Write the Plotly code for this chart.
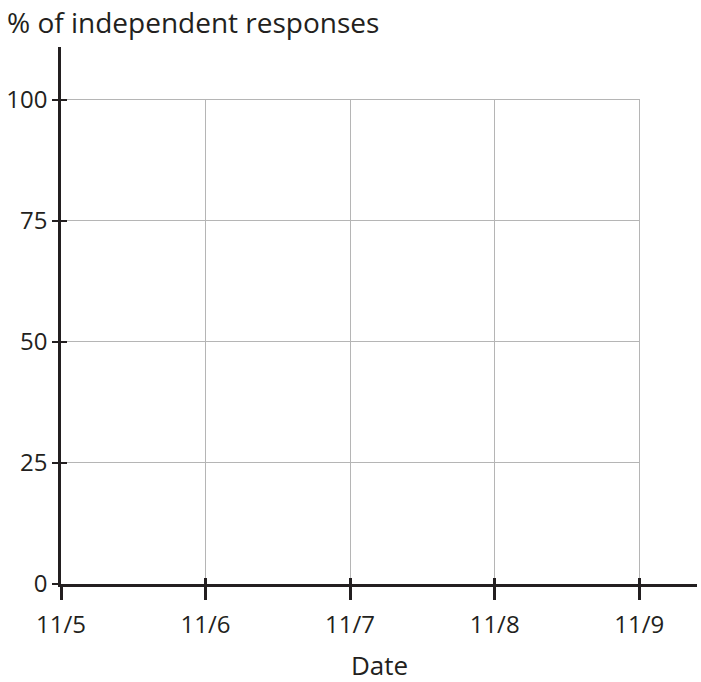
import plotly.graph_objects as go

dates = ["11/5", "11/6", "11/7", "11/8", "11/9"]
y_ticks = [0, 25, 50, 75, 100]
y_max_grid = 100
y_max_axis = 110.95
x_max_axis = 4.4

xpos = list(range(len(dates)))
FONT = "Open Sans"
INK = "#231f20"
GRID = "#b5b5b5"
TICK_SIZE = 24
TITLE_SIZE = 28
XTITLE_SIZE = 26

fig = go.Figure()
# empty series (no data plotted in the reference)
for xa, ya in (("x", "y"), ("x2", "y2")):
    fig.add_trace(go.Scatter(x=xpos, y=[None] * len(dates), mode="markers",
                             xaxis=xa, yaxis=ya, showlegend=False, hoverinfo="skip"))

# grid box spans the data area (slightly padded so edge gridlines are kept)
gx_hi = (len(dates) - 1) + 0.008
gy_hi = y_max_grid + 0.25
gx = gx_hi / x_max_axis
gy = gy_hi / y_max_axis

fig.update_layout(
    width=701, height=682,
    margin=dict(l=61, r=4, t=47, b=98),
    plot_bgcolor="rgba(0,0,0,0)", paper_bgcolor="white",
    font=dict(family=FONT, size=TICK_SIZE, color=INK),
    showlegend=False,
    # grid axes (box limited to data area)
    xaxis=dict(domain=[0, gx], range=[0, gx_hi], anchor="y",
               tickvals=xpos, showticklabels=False, showgrid=True,
               gridcolor=GRID, gridwidth=1, zeroline=False, showline=False,
               ticks="inside", ticklen=6, tickwidth=2.5, tickcolor=INK,
               automargin=False),
    yaxis=dict(domain=[0, gy], range=[0, gy_hi], anchor="x",
               tickvals=y_ticks, showticklabels=False, showgrid=True,
               gridcolor=GRID, gridwidth=1, zeroline=False, showline=False,
               ticks="inside", ticklen=6, tickwidth=2, tickcolor=INK,
               automargin=False),
    # visible axes
    xaxis2=dict(domain=[0, 1], range=[0, x_max_axis], anchor="y2",
                tickvals=xpos, ticktext=dates, showgrid=False, zeroline=False,
                showline=True, linecolor=INK, linewidth=2.5,
                ticks="outside", ticklen=13, tickwidth=2.5, tickcolor=INK,
                ticklabelstandoff=4, tickfont=dict(size=TICK_SIZE, color=INK),
                automargin=False),
    yaxis2=dict(domain=[0, 1], range=[0, y_max_axis], anchor="x2",
                tickvals=y_ticks, showgrid=False, zeroline=False,
                showline=True, linecolor=INK, linewidth=2.5,
                ticks="outside", ticklen=6, tickwidth=2, tickcolor=INK,
                ticklabelstandoff=0, tickfont=dict(size=TICK_SIZE, color=INK),
                automargin=False),
    annotations=[
        dict(text="% of independent responses", xref="paper", yref="paper",
             x=0, y=1, xanchor="left", yanchor="middle", xshift=-56, yshift=25,
             showarrow=False, font=dict(size=TITLE_SIZE, color=INK)),
        dict(text="Date", xref="paper", yref="paper", x=0.5, y=0,
             xanchor="center", yanchor="middle", yshift=-81,
             showarrow=False, font=dict(size=XTITLE_SIZE, color=INK)),
    ],
)

fig.write_html("out.html", config={"displayModeBar": False},
               post_script="document.body.style.margin='0';document.body.style.overflow='hidden';")
